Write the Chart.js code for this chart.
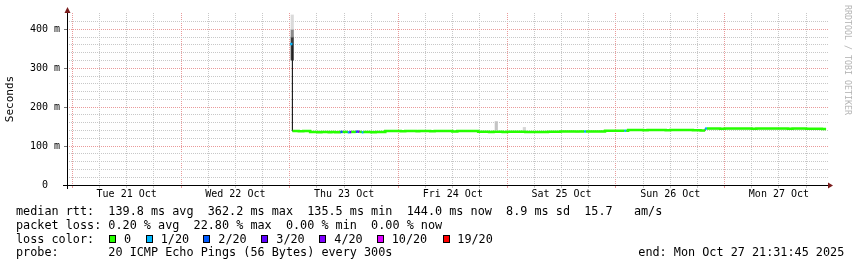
<!DOCTYPE html>
<html>
<head>
<meta charset="utf-8">
<script src="https://cdn.jsdelivr.net/npm/chart.js@4.4.1/dist/chart.umd.min.js"></script>
<style>
body{margin:0;background:#fff;}
#wrap{position:relative;width:857px;height:267px;overflow:hidden;background:#fff;}
canvas{position:absolute;left:0;top:0;}
.t{position:absolute;font-family:'DejaVu Sans Mono',monospace;font-size:11.8px;line-height:14px;white-space:pre;color:#000;}
.box{position:absolute;width:5px;height:6px;border:1px solid #000;}
#credit{position:absolute;left:851.5px;top:5px;font-family:'DejaVu Sans Mono',monospace;font-size:8.3px;line-height:8px;color:#b4b4b4;transform-origin:0 0;transform:rotate(90deg);white-space:pre;}
</style>
</head>
<body>
<div id="wrap">
  <canvas id="chart" width="857" height="267"></canvas>
  <div id="legend"></div>
  <div id="credit">RRDTOOL / TOBI OETIKER</div>
</div>
<script>
// ---- data (hours since Tue 21 Oct 00:00) ----
const times = [48.1, 48.6, 50.0, 51.0, 52.5, 54.2, 55.0, 56.6, 57.2, 58.0,
  59.0, 59.2, 59.7, 60.8, 61.2, 61.6, 62.6, 63.0, 63.4, 63.9,
  64.3, 66.0, 67.0, 69.1, 72.5, 73.5, 76.0, 76.6, 79.0, 80.0,
  83.9, 85.0, 89.6, 92.0, 93.0, 95.0, 96.0, 100.0, 104.0, 105.0,
  107.7, 111.0, 112.0, 113.0, 113.4, 117.6, 121.9, 122.3, 122.7, 126.0,
  127.0, 131.0, 132.0, 137.0, 138.7, 139.7, 140.1, 143.0, 144.0, 150.0,
  151.0, 158.0, 159.0, 162.0, 165.5, 166.4];
const medianMs = [362.2, 138.6, 138.2, 138.6, 136.4, 135.6, 136.4, 135.6, 136.4, 135.6,
  136.4, 136.4, 136.4, 135.4, 136.0, 136.4, 137.0, 137.0, 136.4, 135.4,
  136.4, 135.6, 136.4, 138.7, 138.2, 138.7, 138.3, 138.7, 138.3, 138.7,
  137.6, 138.7, 136.6, 136.0, 136.6, 136.0, 136.6, 136.3, 136.0, 136.6,
  137.8, 137.2, 137.8, 137.6, 137.8, 139.5, 139.5, 139.5, 141.3, 140.8,
  141.3, 140.8, 141.3, 140.6, 139.8, 144.9, 144.9, 144.3, 144.9, 144.4,
  144.9, 144.4, 144.9, 144.6, 144.0, 144.0];
const lossCount = [1, 0, 0, 0, 0, 0, 0, 0, 0, 0,
  0, 2, 0, 1, 3, 0, 2, 4, 0, 1,
  0, 0, 0, 0, 0, 0, 0, 0, 0, 0,
  0, 0, 0, 0, 0, 0, 0, 0, 0, 0,
  0, 0, 0, 1, 0, 0, 1, 0, 0, 0,
  0, 0, 0, 0, 0, 1, 0, 0, 0, 0,
  0, 0, 0, 0, 0, 0];
const smokeTimes = [48.55, 48.55, 48.55, 93.6, 99.8];
const smokeLow   = [321, 380, 400, 142, 140];
const smokeHigh  = [380, 400, 437, 163, 148];
const smokeShade = ['#3a3a3a', '#8a8a8a', '#dadada', '#c4c4c4', '#d6d6d6'];

const dayLabels = ['Tue 21 Oct','Wed 22 Oct','Thu 23 Oct','Fri 24 Oct','Sat 25 Oct','Sun 26 Oct','Mon 27 Oct'];
const dayNoonHours = [12, 36, 60, 84, 108, 132, 156];
const yTickValues = [0, 100, 200, 300, 400];
const yTickLabels = ['0  ', '100 m', '200 m', '300 m', '400 m'];

const rttStats = ['139.8', '362.2', '135.5', '144.0', '8.9', '15.7'];
const lossStats = ['0.20', '22.80', '0.00', '0.00'];
const lossLevels = [0, 1, 2, 3, 4, 10, 19];
const lossLabels = ['0', '1/20', '2/20', '3/20', '4/20', '10/20', '19/20'];
const lossColors = ['#26ff00', '#00b8ff', '#0059ff', '#5e00ff', '#7e00ff', '#dd00ff', '#ff0000'];
const probeText = '20 ICMP Echo Pings (56 Bytes) every 300s';
const endText = 'end: Mon Oct 27 21:31:45 2025';

// ---- helpers ----
function lossColor(n){
  let c = lossColors[0];
  for (let j = 0; j < lossLevels.length; j++) if (n >= lossLevels[j]) c = lossColors[j];
  return c;
}
const coloredPts = [];
const blackPts = [];
for (let i = 0; i < times.length - 1; i++) {
  coloredPts.push({x: times[i], y: medianMs[i], loss: lossCount[i]});
  coloredPts.push({x: times[i+1], y: medianMs[i], loss: lossCount[i]});
  if (i < times.length - 2 && lossColor(lossCount[i+1]) !== lossColor(lossCount[i])) {
    coloredPts.push({x: times[i+1], y: null, loss: 0});
  }
  blackPts.push({x: times[i], y: medianMs[i]});
  blackPts.push({x: times[i+1], y: medianMs[i]});
}
const xGridHours = [];
for (let h = 0; h <= 166; h += 6) xGridHours.push(h);
const yGrid = [];
for (let v = 0; v <= 440; v += 20) yGrid.push(v);

const RED = '#e99a9a', GRAY = '#c8c8c8', NONE = 'rgba(0,0,0,0)';

const axesPlugin = {
  id: 'axes',
  afterDraw(chart) {
    const {ctx, chartArea: a} = chart;
    const yb = Math.round(a.bottom) + 0.5, xl = Math.round(a.left) + 0.5;
    ctx.save();
    ctx.strokeStyle = '#000'; ctx.lineWidth = 1;
    ctx.beginPath();
    ctx.moveTo(a.left - 4, yb); ctx.lineTo(a.right + 1, yb);
    ctx.moveTo(xl, a.bottom + 4); ctx.lineTo(xl, a.top - 1);
    ctx.stroke();
    ctx.fillStyle = '#7a1c1c';
    ctx.beginPath();
    ctx.moveTo(xl, a.top - 6); ctx.lineTo(xl - 3, a.top); ctx.lineTo(xl + 3, a.top); ctx.closePath();
    ctx.fill();
    ctx.beginPath();
    ctx.moveTo(a.right + 5, yb); ctx.lineTo(a.right, yb - 3); ctx.lineTo(a.right, yb + 3); ctx.closePath();
    ctx.fill();
    ctx.restore();
  }
};

Chart.defaults.font.family = "'DejaVu Sans Mono', monospace";

new Chart(document.getElementById('chart'), {
  type: 'line',
  data: {
    datasets: [
      {
        data: coloredPts, borderWidth: 2.5, borderColor: lossColors[0], pointRadius: 0,
        spanGaps: false, order: 1,
        segment: { borderColor: c => lossColor(coloredPts[c.p0DataIndex].loss) }
      },
      {
        data: blackPts, borderWidth: 1, borderColor: '#202020', pointRadius: 0, order: 2
      },
      {
        type: 'bar', order: 3, grouped: false, barThickness: 2.5, borderWidth: 0,
        data: smokeTimes.map((t, i) => ({x: t, y: [smokeLow[i], smokeHigh[i]]})),
        backgroundColor: smokeShade
      }
    ]
  },
  options: {
    responsive: false, animation: false, devicePixelRatio: 1,
    layout: {padding: {top: 13, right: 29, left: 0, bottom: 0}},
    plugins: {legend: {display: false}, tooltip: {enabled: false}},
    elements: {point: {radius: 0}},
    scales: {
      x: {
        type: 'linear', min: -1.17, max: 166.83, bounds: 'data', offset: false,
        afterBuildTicks: s => { s.ticks = xGridHours.map(v => ({value: v})); },
        afterFit: s => { s.height = 82; },
        grid: {
          offset: false, lineWidth: 1, drawTicks: true, tickLength: 3,
          color: c => (c.tick && c.tick.value % 24 === 0) ? RED : GRAY,
          tickColor: c => (c.tick && c.tick.value % 24 === 0) ? RED : GRAY
        },
        border: {display: false, dash: [1, 1]},
        ticks: {
          autoSkip: false, maxRotation: 0, minRotation: 0, padding: 0, color: '#000',
          font: {size: 10},
          callback: v => { const k = dayNoonHours.indexOf(v); return k >= 0 ? dayLabels[k] : ''; }
        }
      },
      y: {
        type: 'linear', min: 0, max: 442, bounds: 'data',
        afterBuildTicks: s => { s.ticks = yGrid.map(v => ({value: v})); },
        afterFit: s => { s.width = 67; },
        grid: {
          lineWidth: 1, drawTicks: true, tickLength: 3,
          color: c => { const v = c.tick ? c.tick.value : -1; if (v === 0 || v === 440) return NONE; return v % 100 === 0 ? RED : GRAY; },
          tickColor: c => { const v = c.tick ? c.tick.value : -1; return (v % 100 === 0 && v !== 0) ? '#777' : NONE; }
        },
        border: {display: false, dash: [1, 1]},
        ticks: {
          autoSkip: false, padding: 4, color: '#000', font: {size: 10},
          callback: v => { const k = yTickValues.indexOf(v); return k >= 0 ? yTickLabels[k] : ''; }
        },
        title: {display: true, text: 'Seconds', color: '#000', font: {size: 11}, padding: {top: 4, bottom: 0}}
      }
    }
  },
  plugins: [axesPlugin]
});

// ---- legend text (HTML) ----
const legend = document.getElementById('legend');
function addText(txt, left, top) {
  const d = document.createElement('div');
  d.className = 't'; d.textContent = txt;
  d.style.left = left + 'px'; d.style.top = top + 'px';
  legend.appendChild(d);
}
function addBox(color, left, top) {
  const d = document.createElement('div');
  d.className = 'box'; d.style.background = color;
  d.style.left = left + 'px'; d.style.top = top + 'px';
  legend.appendChild(d);
}
const rowTop = [204.2, 217.9, 231.6, 245.3];
addText('median rtt:  ' + rttStats[0] + ' ms avg  ' + rttStats[1] + ' ms max  ' + rttStats[2] + ' ms min  ' +
        rttStats[3] + ' ms now  ' + rttStats[4] + ' ms sd  ' + rttStats[5] + '   am/s', 16, rowTop[0]);
addText('packet loss: ' + lossStats[0] + ' % avg  ' + lossStats[1] + ' % max  ' + lossStats[2] + ' % min  ' +
        lossStats[3] + ' % now', 16, rowTop[1]);
addText('loss color:', 16, rowTop[2]);
const boxLeft = [108.7, 146, 203.3, 261, 319, 376.7, 442.7];
const labelLeft = [124, 160.7, 218.3, 276.3, 334.3, 391.7, 457.3];
for (let j = 0; j < lossLabels.length; j++) {
  addBox(lossColors[j], boxLeft[j], 235.3);
  addText(lossLabels[j], labelLeft[j], rowTop[2]);
}
addText('probe:       ' + probeText, 16, rowTop[3]);
addText(endText, 638.3, rowTop[3]);
</script>
</body>
</html>
